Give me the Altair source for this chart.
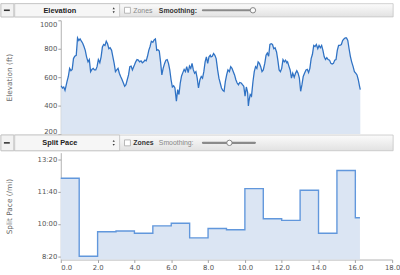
import altair as alt
import pandas as pd

# ---------------- data ----------------
elev_miles = [
    0.02, 0.09, 0.16, 0.23, 0.28, 0.34, 0.41, 0.48, 0.55, 0.62,
    0.69, 0.76, 0.84, 0.91, 0.98, 1.05, 1.12, 1.19, 1.26, 1.33,
    1.40, 1.48, 1.55, 1.62, 1.69, 1.76, 1.83, 1.90, 1.97, 2.04,
    2.12, 2.19, 2.26, 2.33, 2.40, 2.47, 2.54, 2.61, 2.68, 2.76,
    2.83, 2.90, 2.97, 3.04, 3.11, 3.18, 3.25, 3.32, 3.40, 3.47,
    3.54, 3.61, 3.68, 3.75, 3.82, 3.89, 3.96,
    4.00, 4.07, 4.14, 4.21, 4.28, 4.36, 4.43, 4.50, 4.57, 4.64,
    4.71, 4.78, 4.85, 4.92, 5.00, 5.07, 5.14, 5.17, 5.21, 5.28,
    5.35, 5.42, 5.49, 5.56, 5.64, 5.71, 5.78, 5.85, 5.92, 5.99,
    6.06, 6.13, 6.20, 6.28, 6.31, 6.35, 6.42, 6.49, 6.56, 6.63,
    6.70, 6.77, 6.84, 6.92, 6.99, 7.06, 7.13, 7.20, 7.27, 7.34,
    7.41, 7.48, 7.56, 7.63, 7.70, 7.77, 7.84, 7.91, 7.98, 8.05,
    8.12,
    8.16, 8.23, 8.30, 8.37, 8.44, 8.52, 8.59, 8.66, 8.73, 8.80,
    8.87, 8.94, 9.01, 9.08, 9.16, 9.23, 9.30, 9.37, 9.44, 9.51,
    9.58, 9.65, 9.72, 9.80, 9.87, 9.94, 10.01, 10.08, 10.15, 10.19,
    10.22, 10.29, 10.36, 10.44, 10.51, 10.58, 10.65, 10.72, 10.79, 10.86,
    10.93, 11.00, 11.08, 11.15, 11.22, 11.29, 11.36, 11.43, 11.50, 11.57,
    11.64, 11.72, 11.79, 11.86, 11.93, 12.00, 12.07, 12.14, 12.21, 12.28,
    12.32, 12.39, 12.46, 12.53, 12.60, 12.68, 12.75, 12.82, 12.89, 12.96,
    13.03, 13.10, 13.17, 13.24, 13.32, 13.39, 13.46, 13.53, 13.60, 13.67,
    13.74, 13.81, 13.88, 13.96, 14.03, 14.10, 14.17, 14.24, 14.31, 14.38,
    14.45, 14.52, 14.60, 14.67, 14.74, 14.81, 14.88, 14.95, 15.02, 15.09,
    15.16, 15.24, 15.31, 15.38, 15.45, 15.52, 15.59, 15.66, 15.73, 15.80,
    15.88, 15.95, 16.02, 16.09, 16.16, 16.23, 16.27,
]
elev_feet = [
    540, 524, 531, 508, 536, 570, 605, 662, 646, 655,
    731, 747, 754, 876, 858, 869, 853, 839, 816, 789,
    743, 708, 724, 639, 655, 662, 651, 651, 674, 724,
    701, 743, 812, 830, 823, 853, 835, 800, 807, 789,
    743, 697, 639, 651, 662, 628, 605, 586, 559, 536,
    547, 582, 616, 674, 678, 651, 674,
    685, 708, 724, 720, 708, 715, 701, 708, 720, 715,
    747, 789, 816, 853, 846, 862, 869, 839, 789, 793,
    784, 708, 616, 662, 697, 720, 724, 697, 651, 582,
    531, 540, 524, 432, 467, 513, 478, 559, 609, 632,
    655, 639, 674, 632, 678, 662, 697, 651, 628, 639,
    593, 524, 582, 605, 593, 639, 708, 743, 697, 743,
    754,
    743, 747, 766, 754, 731, 651, 593, 559, 524, 508,
    501, 570, 616, 651, 639, 674, 662, 639, 616, 582,
    559, 547, 563, 559, 547, 536, 467, 531, 494, 398,
    432, 478, 467, 570, 639, 674, 662, 708, 697, 674,
    639, 651, 697, 754, 770, 747, 830, 835, 830, 800,
    807, 777, 720, 651, 639, 662, 724, 708, 720, 701,
    708, 678, 651, 593, 628, 600, 628, 646, 628, 593,
    501, 547, 605, 628, 651, 655, 632, 662, 731, 761,
    823, 816, 830, 800, 823, 807, 823, 789, 743, 724,
    738, 724, 720, 697, 692, 697, 720, 724, 789, 823,
    823, 830, 858, 869, 876, 876, 858, 800, 747, 708,
    674, 639, 628, 616, 582, 536, 513,
]

split_start_mi = [0, 1, 2, 3, 4, 5, 6, 7, 8, 9, 10, 11, 12, 13, 14, 15, 16, 16.25]
split_pace_sec = [741, 500, 576, 578, 571, 594, 602, 557, 586, 582, 709, 616, 611, 704, 571, 765, 619, 619]

elev_ticks = [200, 400, 600, 800, 1000]
pace_ticks = [500, 600, 700, 800]
dist_ticks = [0, 2, 4, 6, 8, 10, 12, 14, 16, 18]

elev_title = "Elevation (ft)"
pace_title = "Split Pace (/mi)"

# ---------------- styling ----------------
FONT = "DejaVu Sans"
HFONT = "Liberation Sans"
W = 338
H1 = 116
H2 = 109
FILL = "#dbe5f3"

elev_df = pd.DataFrame({"mi": elev_miles, "ft": elev_feet})
pace_df = pd.DataFrame({"mi": split_start_mi, "sec": split_pace_sec})
one = pd.DataFrame({"k": [0]})

xscale = alt.Scale(domain=[0, 18], nice=False, zero=False)


def header(label, knob_x, zones_dark, ytop, h):
    ymid = ytop + h / 2
    base = alt.Chart(one)
    grad = alt.LinearGradient(
        gradient="linear",
        stops=[alt.GradientStop(color="#fbfbfb", offset=0),
               alt.GradientStop(color="#e2e2e2", offset=1)],
        x1=0, x2=0, y1=0, y2=1,
    )
    bar = base.mark_rect(fill=grad, stroke="#c4c4c4", strokeWidth=0.8).encode(
        x=alt.value(-61), x2=alt.value(339), y=alt.value(ytop), y2=alt.value(ytop + h))
    minus_box = base.mark_rect(fill="#f2f2f2", stroke="#c0c0c0", strokeWidth=0.8).encode(
        x=alt.value(-61), x2=alt.value(-48), y=alt.value(ytop), y2=alt.value(ytop + h))
    minus = base.mark_rule(color="#333333", strokeWidth=1.6).encode(
        x=alt.value(-58), x2=alt.value(-52), y=alt.value(ymid))
    drop = base.mark_rect(fill="#f6f6f6", stroke="#c0c0c0", strokeWidth=0.8).encode(
        x=alt.value(-47), x2=alt.value(60), y=alt.value(ytop), y2=alt.value(ytop + h))
    lab = base.mark_text(text=label, font=HFONT, fontSize=7.5, fontWeight="bold",
                         color="#222222", align="center", baseline="middle").encode(
        x=alt.value(-1), y=alt.value(ymid + 0.5))
    up = base.mark_point(shape="triangle-up", filled=True, color="#333333", size=5, opacity=1).encode(
        x=alt.value(54), y=alt.value(ymid - 2))
    down = base.mark_point(shape="triangle-down", filled=True, color="#333333", size=5, opacity=1).encode(
        x=alt.value(54), y=alt.value(ymid + 2))
    check = base.mark_rect(fill="#ffffff", stroke="#a8a8a8", strokeWidth=0.8).encode(
        x=alt.value(65), x2=alt.value(71), y=alt.value(ymid - 3), y2=alt.value(ymid + 3))
    zones = base.mark_text(text="Zones", font=HFONT, fontSize=7,
                           fontWeight="bold" if zones_dark else "normal",
                           color="#333333" if zones_dark else "#888888",
                           align="left", baseline="middle").encode(
        x=alt.value(74), y=alt.value(ymid + 0.5))
    smooth = base.mark_text(text="Smoothing:", font=HFONT, fontSize=7,
                            fontWeight="normal" if zones_dark else "bold",
                            color="#888888" if zones_dark else "#333333",
                            align="left", baseline="middle").encode(
        x=alt.value(100), y=alt.value(ymid + 0.5))
    track = base.mark_rule(color="#8a8a8a", strokeWidth=2.2, strokeCap="round").encode(
        x=alt.value(145), x2=alt.value(198), y=alt.value(ymid))
    knob = base.mark_point(shape="circle", filled=True, fill="#fafafa", stroke="#7a7a7a",
                           strokeWidth=0.9, size=30, opacity=1).encode(
        x=alt.value(knob_x), y=alt.value(ymid))
    return [bar, minus_box, minus, drop, lab, up, down, check, zones, smooth, track, knob]


# ---------------- elevation panel ----------------
elev_y_axis = alt.Axis(values=elev_ticks, format="d", title=elev_title, labelFlush=True,
                       titleX=-48)
elev_area = alt.Chart(elev_df).mark_area(color=FILL, opacity=1).encode(
    x=alt.X("mi:Q", scale=xscale, axis=None),
    y=alt.Y("ft:Q", scale=alt.Scale(domain=[200, 1000], nice=False, zero=False),
            axis=elev_y_axis),
    y2=alt.datum(200),
)
elev_line = alt.Chart(elev_df).mark_line(color="#2f72c4", strokeWidth=1.3).encode(
    x=alt.X("mi:Q", axis=None),
    y=alt.Y("ft:Q", axis=elev_y_axis))

top = alt.layer(elev_area, elev_line,
                *header("Elevation", 196, False, -17, 13.5)).properties(width=W, height=H1)

# ---------------- split pace panel ----------------
pace_label = "floor(datum.value/60) + ':' + (datum.value % 60 < 10 ? '0' : '') + (datum.value % 60)"
pace_x_axis = alt.Axis(values=dist_ticks, format=".1f", title=None,
                       labelAlign={"condition": {"test": "datum.value == 0", "value": "left"},
                                   "value": "center"})
pace_y_axis = alt.Axis(values=pace_ticks, title=pace_title, labelExpr=pace_label, titleX=-48)

pace_area = alt.Chart(pace_df).mark_area(color=FILL, opacity=1, interpolate="step-after").encode(
    x=alt.X("mi:Q", scale=xscale, axis=pace_x_axis),
    y=alt.Y("sec:Q", scale=alt.Scale(domain=[490, 820], nice=False, zero=False),
            axis=pace_y_axis),
    y2=alt.datum(490),
)
pace_line = alt.Chart(pace_df).mark_line(color="#6197dc", strokeWidth=1.4,
                                         interpolate="step-after").encode(
    x=alt.X("mi:Q", axis=pace_x_axis),
    y=alt.Y("sec:Q", axis=pace_y_axis))

bottom = alt.layer(pace_area, pace_line,
                   *header("Split Pace", 172, True, -18, 16)).properties(width=W, height=H2)

chart = alt.vconcat(top, bottom, spacing=19, bounds="flush").properties(
    padding=0, background="#ffffff"
).configure_view(stroke=None).configure_axis(
    grid=False,
    domainColor="#b0b0b0",
    tickColor="#a0a0a0",
    tickSize=3,
    labelFont=FONT,
    labelFontSize=7,
    labelColor="#555555",
    labelPadding=1,
    labelOverlap=False,
    labelBound=False,
    labelSeparation=0,
    titleFont=FONT,
    titleFontSize=7.5,
    titleFontWeight="normal",
    titleColor="#666666",
)

chart.save("out.html", embed_options={"renderer": "svg", "actions": False})
